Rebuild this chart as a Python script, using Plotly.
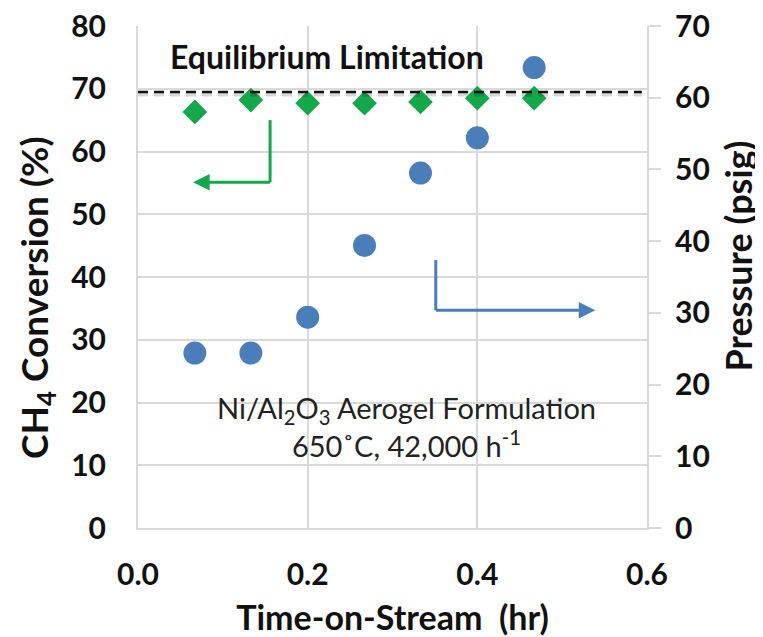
import plotly.graph_objects as go

time_hr = [0.067, 0.133, 0.2, 0.267, 0.333, 0.4, 0.467]
ch4_conversion = [66.3, 68.2, 67.7, 67.7, 67.9, 68.5, 68.5]
pressure_psig = [24.4, 24.4, 29.4, 39.4, 49.5, 54.4, 64.2]
equilibrium_limit = 69.5

x_ticks = [0.0, 0.2, 0.4, 0.6]
x_tick_labels = ["0.0", "0.2", "0.4", "0.6"]

FONT = "Lato"
GRID = "#d9d9d9"
GREEN = "#13a84a"
BLUE = "#4a7ebb"
TXT = "#111111"

fig = go.Figure()
fig.add_trace(go.Scatter(
    x=time_hr, y=ch4_conversion, mode="markers", yaxis="y",
    marker=dict(symbol="diamond", size=19, color=GREEN),
    showlegend=False, cliponaxis=False))
fig.add_trace(go.Scatter(
    x=time_hr, y=pressure_psig, mode="markers", yaxis="y2",
    marker=dict(symbol="circle", size=23, color=BLUE),
    showlegend=False, cliponaxis=False))

# Equilibrium dashed line (with faint shadow)
fig.add_shape(type="line", xref="paper", yref="y", x0=0, x1=0.99,
              y0=equilibrium_limit - 0.4, y1=equilibrium_limit - 0.4,
              line=dict(color="rgba(0,0,0,0.16)", width=4, dash="10px,6px"))
fig.add_shape(type="line", xref="paper", yref="y", x0=0, x1=0.99,
              y0=equilibrium_limit, y1=equilibrium_limit,
              line=dict(color=TXT, width=2.5, dash="10px,6px"))

# Green arrow (points to left axis)
fig.add_shape(type="line", xref="x", yref="y", x0=0.1557, x1=0.1557,
              y0=65.0, y1=55.1, line=dict(color=GREEN, width=3))
fig.add_annotation(x=0.065, y=55.1, ax=0.1575, ay=55.1, xref="x", yref="y",
                   axref="x", ayref="y", text="", showarrow=True,
                   arrowhead=2, arrowsize=1.1, arrowwidth=3, arrowcolor=GREEN)

# Blue arrow (points to right axis)
fig.add_shape(type="line", xref="x", yref="y", x0=0.351, x1=0.351,
              y0=42.7, y1=34.7, line=dict(color=BLUE, width=3))
fig.add_annotation(x=0.539, y=34.7, ax=0.3493, ay=34.7, xref="x", yref="y",
                   axref="x", ayref="y", text="", showarrow=True,
                   arrowhead=2, arrowsize=1.1, arrowwidth=3, arrowcolor=BLUE)

fig.add_annotation(x=0.223, y=75.1, xref="x", yref="y", showarrow=False,
                   text="<b>Equilibrium Limitation</b>",
                   font=dict(family=FONT, size=32, color=TXT))
fig.add_annotation(x=0.316, y=16.2, xref="x", yref="y", showarrow=False,
                   text="Ni/Al<sub>2</sub>O<sub>3</sub> Aerogel Formulation<br>650˚C, 42,000 h<sup>-1</sup>",
                   font=dict(family=FONT, size=29, color="#222222"))

# Axis titles placed as annotations for precise positioning
fig.add_annotation(x=-0.2004, y=0.46, xref="paper", yref="paper", showarrow=False,
                   textangle=-90, xanchor="center", yanchor="middle",
                   text="<b>CH<sub>4</sub> Conversion (%)</b>",
                   font=dict(family=FONT, size=37, color=TXT))
fig.add_annotation(x=1.178, y=0.542, xref="paper", yref="paper", showarrow=False,
                   textangle=-90, xanchor="center", yanchor="middle",
                   text="<b>Pressure (psig)</b>",
                   font=dict(family=FONT, size=36, color=TXT))

tickfont = dict(family=FONT, size=30, color=TXT, weight="bold")

fig.update_layout(
    width=755, height=629,
    margin=dict(l=130, r=116, t=18, b=109, autoexpand=False),
    paper_bgcolor="white", plot_bgcolor="white",
    font=dict(family=FONT, color=TXT),
    xaxis=dict(range=[0, 0.6], tickvals=x_ticks, ticktext=x_tick_labels,
               showgrid=True, gridcolor=GRID, gridwidth=1.5,
               showline=True, linecolor=GRID, linewidth=2, zeroline=False,
               ticks="", tickfont=tickfont, ticklabelstandoff=19,
               ticklabeloverflow="allow", automargin=False,
               title=dict(text="<b>Time-on-Stream  (hr)</b>", standoff=19,
                          font=dict(family=FONT, size=34, color=TXT))),
    yaxis=dict(range=[0, 80], dtick=10, showgrid=True, gridcolor=GRID, gridwidth=1.5,
               showline=True, linecolor=GRID, linewidth=2, zeroline=False, ticks="",
               tickfont=tickfont, ticklabelstandoff=24, ticklabeloverflow="allow",
               automargin=False),
    yaxis2=dict(range=[0, 70], dtick=10, overlaying="y", side="right",
                showgrid=False, showline=True, linecolor=GRID, linewidth=2,
                zeroline=False, ticks="outside", ticklen=12, tickcolor=GRID, tickwidth=1.5,
                tickfont=tickfont, ticklabelstandoff=8, ticklabeloverflow="allow",
                automargin=False),
)

fig.write_html("out.html")
